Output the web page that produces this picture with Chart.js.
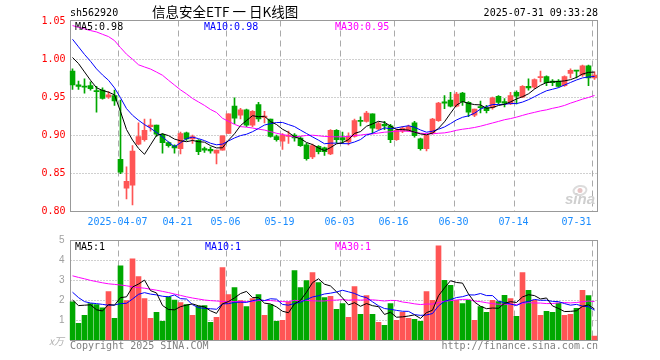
<!DOCTYPE html>
<html><head><meta charset="utf-8">
<script src="https://cdn.jsdelivr.net/npm/chart.js@4.4.1/dist/chart.umd.min.js"></script>
<style>
html,body{margin:0;padding:0;background:#fff;}
#wrap{position:relative;width:660px;height:360px;overflow:hidden;background:#fff;}
canvas{position:absolute;left:0;top:0;}
.t{position:absolute;white-space:pre;font-family:'DejaVu Sans Mono',monospace;font-size:10px;line-height:10px;z-index:5;}
</style></head><body>
<div id="wrap">
<canvas id="pc" width="660" height="360"></canvas>
<canvas id="vc" width="660" height="360"></canvas>
<div class="t" style="left:70px;top:8px;color:#000">sh562920</div>
<div class="t" style="left:152px;top:3.5px;font-family:'Noto Sans CJK SC',sans-serif;font-size:13.5px;line-height:14px;color:#000">信息安全ETF 一 日K线图</div>
<div class="t" style="right:62px;top:8px;color:#000;text-align:right">2025-07-31 09:33:28</div>
<div class="t" style="left:75px;top:21.5px;color:#000">MA5:0.98</div>
<div class="t" style="left:204px;top:21.5px;color:#0000ff">MA10:0.98</div>
<div class="t" style="left:335px;top:21.5px;color:#ff00ff">MA30:0.95</div>
<div class="t" style="left:75px;top:242px;color:#000">MA5:1</div>
<div class="t" style="left:205px;top:242px;color:#0000ff">MA10:1</div>
<div class="t" style="left:335px;top:242px;color:#ff00ff">MA30:1</div>
<div class="t" style="left:49px;top:336px;color:#b0b0b0;font-family:'Noto Sans CJK SC',sans-serif;font-style:italic;">x万</div>
<div class="t" style="left:70px;top:340.5px;color:#808080">Copyright 2025 SINA.COM</div>
<div class="t" style="right:62px;top:340.5px;color:#808080;text-align:right">http://finance.sina.com.cn</div>
<div class="t" style="left:565px;top:190.5px;color:#cfcfcf;font-family:'Liberation Sans',sans-serif;font-weight:bold;font-style:italic;font-size:15px;line-height:15px;z-index:0">sina</div>
</div>
<script>
// ---------- data ----------
const dates = ['03-25','03-26','03-27','03-28','03-31','04-01','04-02','04-03','04-07','04-08',
'04-09','04-10','04-11','04-14','04-15','04-16','04-17','04-18','04-21','04-22',
'04-23','04-24','04-25','04-28','04-29','04-30','05-06','05-07','05-08','05-09',
'05-12','05-13','05-14','05-15','05-16','05-19','05-20','05-21','05-22','05-23',
'05-26','05-27','05-28','05-29','05-30','06-03','06-04','06-05','06-06','06-09',
'06-10','06-11','06-12','06-13','06-16','06-17','06-18','06-19','06-20','06-23',
'06-24','06-25','06-26','06-27','06-30','07-01','07-02','07-03','07-04','07-07',
'07-08','07-09','07-10','07-11','07-14','07-15','07-16','07-17','07-18','07-21',
'07-22','07-23','07-24','07-25','07-28','07-29','07-30','07-31'];

const tickDates = ['04-07','04-21','05-06','05-19','06-03','06-16','06-30','07-14','07-31'];
const tickTexts = ['2025-04-07','04-21','05-06','05-19','06-03','06-16','06-30','07-14','07-31     '];

const open = [0.984,0.966,0.964,0.965,0.958,0.959,0.950,0.952,0.868,0.830,
0.834,0.888,0.894,0.911,0.913,0.901,0.890,0.886,0.882,0.903,
0.895,0.893,0.882,0.881,0.876,0.880,0.902,0.938,0.926,0.933,
0.913,0.940,0.923,0.921,0.898,0.892,0.898,0.900,0.896,0.887,
0.871,0.885,0.883,0.875,0.906,0.8965,0.891,0.898,0.919,0.918,
0.928,0.908,0.914,0.912,0.894,0.905,0.906,0.916,0.895,0.882,
0.903,0.919,0.9435,0.946,0.938,0.955,0.943,0.926,0.9375,0.936,
0.936,0.951,0.944,0.941,0.956,0.950,0.964,0.963,0.9755,0.977,
0.971,0.971,0.965,0.981,0.985,0.979,0.991,0.975];

const high = [0.987,0.971,0.974,0.970,0.964,0.962,0.957,0.959,0.946,0.858,
0.886,0.916,0.921,0.921,0.913,0.902,0.891,0.887,0.904,0.904,
0.900,0.894,0.884,0.884,0.880,0.899,0.928,0.949,0.935,0.934,
0.932,0.943,0.931,0.921,0.900,0.902,0.905,0.902,0.898,0.889,
0.888,0.886,0.884,0.907,0.907,0.904,0.903,0.921,0.924,0.931,
0.928,0.917,0.918,0.914,0.908,0.911,0.913,0.918,0.896,0.900,
0.922,0.943,0.952,0.956,0.956,0.956,0.944,0.934,0.9445,0.939,
0.950,0.952,0.948,0.956,0.958,0.965,0.974,0.974,0.984,0.978,
0.973,0.973,0.978,0.987,0.985,0.992,0.992,0.983];

const low = [0.960,0.960,0.955,0.959,0.930,0.947,0.948,0.939,0.849,0.816,
0.808,0.887,0.892,0.905,0.898,0.876,0.884,0.876,0.875,0.893,
0.889,0.874,0.877,0.876,0.862,0.880,0.902,0.915,0.921,0.911,
0.911,0.918,0.916,0.897,0.892,0.881,0.889,0.892,0.885,0.867,
0.869,0.875,0.873,0.874,0.890,0.889,0.887,0.897,0.912,0.917,
0.902,0.907,0.907,0.890,0.893,0.903,0.905,0.897,0.880,0.879,
0.901,0.918,0.9345,0.937,0.937,0.939,0.924,0.924,0.929,0.929,
0.934,0.941,0.937,0.940,0.941,0.949,0.959,0.961,0.970,0.965,
0.965,0.963,0.964,0.975,0.975,0.977,0.965,0.973];

const close = [0.966,0.964,0.963,0.961,0.957,0.948,0.953,0.945,0.851,0.839,
0.879,0.898,0.906,0.913,0.901,0.890,0.886,0.883,0.902,0.895,
0.898,0.878,0.880,0.879,0.880,0.899,0.928,0.922,0.933,0.913,
0.931,0.921,0.925,0.898,0.894,0.900,0.900,0.896,0.886,0.869,
0.886,0.878,0.878,0.906,0.894,0.8935,0.898,0.919,0.918,0.929,
0.909,0.915,0.912,0.894,0.906,0.909,0.911,0.899,0.882,0.900,
0.921,0.942,0.942,0.938,0.954,0.944,0.930,0.934,0.936,0.932,
0.949,0.943,0.942,0.952,0.951,0.964,0.962,0.973,0.977,0.969,
0.969,0.964,0.977,0.985,0.984,0.991,0.975,0.979];

const ma5 = [1.002,0.994,0.983,0.972,0.9622,0.9586,0.9564,0.9528,0.9308,0.9072,
0.8934,0.8824,0.8746,0.887,0.8994,0.9016,0.8992,0.8946,0.8924,0.8912,
0.8928,0.8912,0.8906,0.886,0.883,0.8832,0.8932,0.9016,0.9124,0.919,
0.9254,0.924,0.9246,0.9176,0.9138,0.9076,0.9034,0.8976,0.8952,0.8902,
0.8874,0.883,0.8794,0.8834,0.8884,0.8899,0.8939,0.9021,0.9045,0.9115,
0.9146,0.918,0.9166,0.9118,0.9072,0.9072,0.9064,0.9038,0.9014,0.9002,
0.9026,0.9088,0.9174,0.9286,0.9394,0.944,0.9416,0.940,0.9396,0.9352,
0.9362,0.9388,0.9404,0.9436,0.9474,0.9504,0.9542,0.9604,0.9654,0.969,
0.970,0.9704,0.9712,0.9728,0.9758,0.9802,0.9824,0.9828];

const ma10 = [1.026,1.016,1.006,0.997,0.987,0.979,0.972,0.962,0.949,0.9347,
0.926,0.9194,0.9137,0.9089,0.9033,0.8975,0.8908,0.8846,0.8897,0.8953,
0.8972,0.8952,0.8926,0.8892,0.8871,0.888,0.8922,0.8961,0.8992,0.901,
0.9043,0.9086,0.9131,0.915,0.9164,0.9165,0.9137,0.9111,0.9064,0.902,
0.8975,0.8932,0.8885,0.8893,0.8893,0.8887,0.8885,0.8908,0.894,0.900,
0.9023,0.906,0.9094,0.9082,0.9094,0.9109,0.9122,0.9102,0.9066,0.9037,
0.9049,0.9076,0.9106,0.915,0.9198,0.9233,0.9252,0.9287,0.9341,0.9373,
0.9401,0.9402,0.9402,0.9416,0.9413,0.9433,0.9465,0.9504,0.9545,0.9582,
0.9602,0.9623,0.9658,0.9691,0.9724,0.9751,0.9764,0.977];

const ma30 = [1.044,1.0417,1.0396,1.0374,1.0356,1.0325,1.0295,1.0242,1.015,1.0063,
0.9997,0.9924,0.9895,0.9868,0.9828,0.9786,0.972,0.9657,0.9594,0.9541,
0.9481,0.9435,0.9389,0.9336,0.9296,0.922,0.918,0.914,0.911,0.9103,
0.9092,0.9077,0.9065,0.9044,0.9023,0.9007,0.8989,0.8973,0.8984,0.8994,
0.8997,0.899,0.8981,0.8978,0.8976,0.8977,0.8981,0.8993,0.8999,0.901,
0.9014,0.9026,0.9037,0.9042,0.905,0.9054,0.9048,0.904,0.9023,0.9019,
0.9016,0.9023,0.9028,0.9042,0.9062,0.9076,0.9086,0.9099,0.9116,0.9137,
0.9158,0.9179,0.9201,0.9216,0.9235,0.9258,0.928,0.9298,0.9317,0.9331,
0.9351,0.9367,0.9389,0.9419,0.9445,0.9472,0.9494,0.952];

const volume = [1.91,0.83,1.23,1.82,1.77,1.61,2.42,1.08,3.71,1.97,
4.06,3.17,2.07,1.08,1.38,0.93,2.16,1.99,1.87,1.77,
1.23,1.69,1.72,0.88,1.13,3.62,2.27,2.62,1.97,1.67,
2.07,2.27,1.23,1.77,0.93,0.98,1.91,3.47,2.62,2.97,
3.37,2.87,2.12,2.18,1.53,1.82,1.13,2.67,1.28,2.22,
1.28,0.88,0.73,1.82,0.98,1.38,1.08,1.03,0.93,2.42,
1.98,4.71,2.98,2.73,1.98,1.82,1.98,0.98,1.67,1.38,
1.98,1.92,2.23,2.07,1.18,3.37,2.48,2.0,1.23,1.43,
1.38,1.84,1.23,1.28,1.58,2.48,2.22,0.19];

const vma5 = [2.0,1.72,1.74,1.76,1.512,1.452,1.77,1.74,2.118,2.158,
2.648,2.798,2.996,2.47,2.352,1.726,1.524,1.508,1.666,1.744,
1.804,1.71,1.656,1.458,1.33,1.808,1.924,2.104,2.322,2.43,
2.12,2.12,1.842,1.802,1.654,1.436,1.364,1.812,1.982,2.39,
2.868,3.06,2.79,2.702,2.414,2.104,1.756,1.866,1.686,1.824,
1.716,1.666,1.278,1.386,1.138,1.158,1.198,1.258,1.08,1.368,
1.488,2.214,2.604,2.964,2.876,2.844,2.298,1.898,1.686,1.566,
1.598,1.586,1.836,1.916,1.876,2.154,2.266,2.22,2.052,2.102,
1.704,1.576,1.422,1.432,1.462,1.682,1.758,1.55];

const vma10 = [2.39,2.12,1.92,1.85,1.82,1.78,1.74,1.75,1.82,1.835,
2.05,2.284,2.368,2.294,2.255,2.187,2.161,2.252,2.068,2.048,
1.765,1.617,1.582,1.562,1.537,1.806,1.817,1.88,1.89,1.88,
1.964,2.022,1.973,2.062,2.042,1.778,1.742,1.827,1.892,2.022,
2.152,2.212,2.301,2.342,2.402,2.486,2.408,2.328,2.194,2.119,
1.91,1.711,1.572,1.536,1.481,1.437,1.432,1.268,1.233,1.253,
1.323,1.706,1.931,2.022,2.122,2.166,2.256,2.251,2.325,2.221,
2.221,1.942,1.867,1.801,1.721,1.876,1.926,2.028,1.984,1.989,
1.929,1.921,1.821,1.742,1.782,1.693,1.667,1.486];

const vma30 = [3.21,3.13,3.06,2.98,2.92,2.86,2.81,2.78,2.75,2.71,
2.66,2.62,2.59,2.54,2.49,2.43,2.37,2.3,2.23,2.16,
2.1,2.05,2.0,1.97,1.95,1.93,1.92,1.92,1.92,1.921,
1.926,1.974,1.974,1.973,1.945,1.924,1.907,1.986,1.95,1.983,
1.96,1.95,1.952,1.989,1.994,2.023,1.989,2.012,1.992,2.007,
2.009,1.982,1.949,1.98,1.975,1.9,1.861,1.808,1.773,1.798,
1.795,1.876,1.935,1.967,2.002,2.03,2.032,1.949,1.917,1.864,
1.818,1.786,1.79,1.786,1.775,1.826,1.871,1.849,1.847,1.821,
1.824,1.856,1.873,1.855,1.875,1.912,1.95,1.922];

const priceTicks = [0.85, 0.90, 0.95, 1.00];
const volTicks = [1, 2, 3, 4];

// ---------- styles ----------
const RED = '#ff5555', GREEN = '#00a800';
const MONO = 'DejaVu Sans Mono';
const tickIdx = tickDates.map(d => dates.indexOf(d));
const tickMap = {};
tickIdx.forEach((ix, k) => tickMap[ix] = tickTexts[k]);
const colors = close.map((c, i) => c >= open[i] ? RED : GREEN);
const bodies = open.map((o, i) => [o, close[i]]);
const wicks = low.map((l, i) => [l, high[i]]);

const panelGrid = {
  id: 'panelGrid',
  beforeDatasetsDraw(chart, args, o) {
    const {ctx, chartArea: a} = chart;
    const x = chart.scales.x, y = chart.scales.y;
    const L = Math.ceil(a.left) + 0.5, R = Math.floor(a.right) + 0.5;
    const T = Math.round(y.getPixelForValue(y.max)) + o.topAdj;
    const B = Math.round(y.getPixelForValue(y.min)) + 0.5;
    ctx.save();
    ctx.lineWidth = 1;
    ctx.strokeStyle = '#a0a0a0';
    ctx.setLineDash([1, 2]);
    for (const v of o.hLines) {
      const py = Math.round(y.getPixelForValue(v)) + 0.5;
      ctx.beginPath(); ctx.moveTo(L, py); ctx.lineTo(R, py); ctx.stroke();
    }
    ctx.strokeStyle = '#aaaaaa';
    ctx.setLineDash([6, 4]);
    for (const i of tickIdx) {
      const px = Math.round(x.getPixelForValue(i) - 2.5) + 0.5;
      ctx.beginPath(); ctx.moveTo(px, T); ctx.lineTo(px, B); ctx.stroke();
    }
    ctx.setLineDash([]);
    ctx.strokeStyle = '#999999';
    ctx.strokeRect(L, T, R - L, B - T);
    if (o.logo) {
      ctx.strokeStyle = '#dcdcdc'; ctx.lineWidth = 2;
      ctx.beginPath(); ctx.ellipse(580, 190.5, 6.5, 4.5, -0.2, 0, Math.PI * 2); ctx.stroke();
      ctx.fillStyle = '#e6c4c4';
      ctx.beginPath(); ctx.arc(580, 190.5, 2.5, 0, Math.PI * 2); ctx.fill();
    }
    ctx.restore();
  }
};

const lineDs = (data, color) => ({type: 'line', data, borderColor: color, borderWidth: 1,
  pointRadius: 0, tension: 0, fill: false, order: 0});

new Chart(document.getElementById('pc'), {
  type: 'bar',
  data: {
    labels: dates,
    datasets: [
      lineDs(ma5, '#000000'),
      lineDs(ma10, '#0000ff'),
      lineDs(ma30, '#ff00ff'),
      {type: 'bar', data: bodies, backgroundColor: colors, barThickness: 5, grouped: false,
        minBarLength: 1, borderWidth: 0, order: 1},
      {type: 'bar', data: wicks, backgroundColor: colors, barThickness: 1, grouped: false,
        borderWidth: 0, order: 2}
    ]
  },
  options: {
    responsive: false, animation: false, devicePixelRatio: 1,
    layout: {padding: {left: 0, right: 62.5, top: 21, bottom: 129}},
    plugins: {legend: {display: false}, tooltip: {enabled: false},
      panelGrid: {hLines: priceTicks, topAdj: -0.5, logo: true}},
    scales: {
      x: {offset: true, grid: {display: false, drawTicks: false}, border: {display: false},
        ticks: {autoSkip: false, maxRotation: 0, minRotation: 0, padding: 5, labelOffset: -3,
          color: '#1a8cff', font: {family: MONO, size: 10},
          callback: (v, i) => tickMap[i] !== undefined ? tickMap[i] : ''},
        afterFit: s => { s.height = 20; }},
      y: {min: 0.8, max: 1.05, grid: {display: false, drawTicks: false}, border: {display: false},
        ticks: {stepSize: 0.05, padding: 4, color: '#ff0000', font: {family: MONO, size: 10},
          callback: v => Number(v).toFixed(2)},
        afterFit: s => { s.width = 69.5; }}
    }
  },
  plugins: [panelGrid]
});

new Chart(document.getElementById('vc'), {
  type: 'bar',
  data: {
    labels: dates,
    datasets: [
      lineDs(vma5, '#000000'),
      lineDs(vma10, '#0000ff'),
      lineDs(vma30, '#ff00ff'),
      {type: 'bar', data: volume, backgroundColor: colors, barThickness: 5, grouped: false,
        borderWidth: 0, order: 1}
    ]
  },
  options: {
    responsive: false, animation: false, devicePixelRatio: 1,
    layout: {padding: {left: 0, right: 62.5, top: 240, bottom: 20}},
    plugins: {legend: {display: false}, tooltip: {enabled: false},
      panelGrid: {hLines: volTicks, topAdj: 0.5, logo: false}},
    scales: {
      x: {display: false, offset: true},
      y: {min: 0, max: 5, grid: {display: false, drawTicks: false}, border: {display: false},
        ticks: {stepSize: 1, padding: 5, color: '#a0a0a0', font: {family: 'Liberation Sans', size: 10},
          callback: v => v === 0 ? '' : String(v)},
        afterFit: s => { s.width = 69.5; }}
    }
  },
  plugins: [panelGrid]
});
</script>
</body></html>
